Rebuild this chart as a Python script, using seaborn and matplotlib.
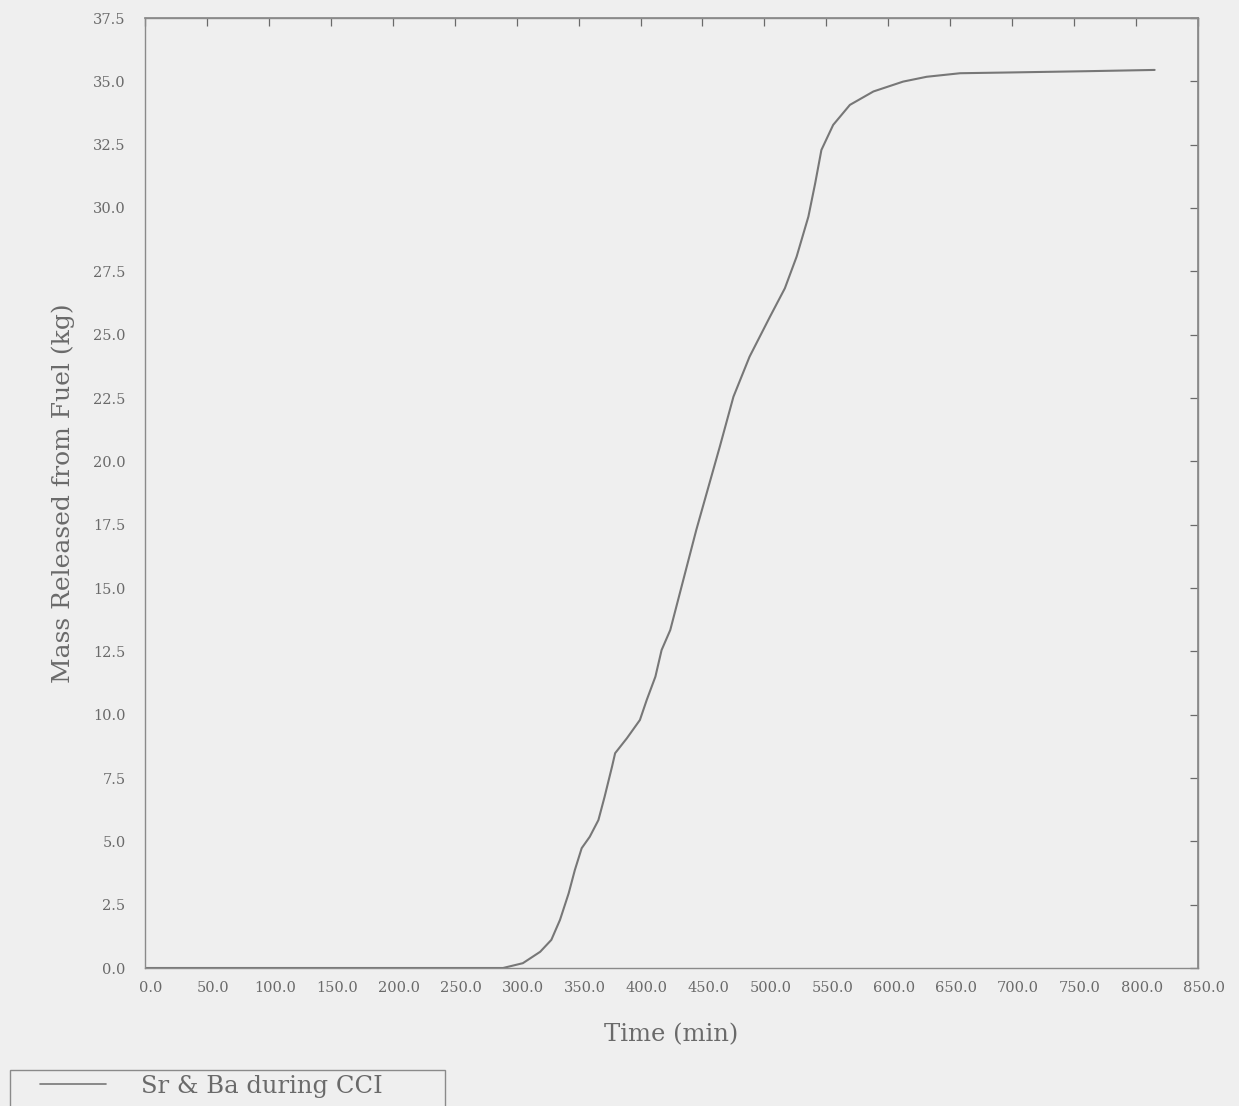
import matplotlib
matplotlib.use("Agg")
import matplotlib.pyplot as plt
import matplotlib.transforms as mtransforms
from matplotlib.patches import Rectangle
import numpy as np
import pandas as pd
import seaborn as sns

# Cumulative Sr & Ba mass released from fuel during core-concrete interaction
time_min = [0, 100, 200, 289, 305, 319, 328, 335, 342, 347, 352.5, 359, 366,
            371, 377, 379.5, 389, 399.5, 405, 412, 417, 424, 445, 464, 475,
            488, 504.5, 516.5, 526, 535.5, 541, 546, 555.5, 569, 588, 612,
            631, 658, 698, 760, 815]
mass_kg = [0.0, 0.0, 0.0, 0.0, 0.19, 0.64, 1.11, 1.9, 2.95, 3.87, 4.73, 5.18,
           5.84, 6.76, 7.95, 8.48, 9.07, 9.79, 10.58, 11.5, 12.55, 13.34,
           17.29, 20.58, 22.55, 24.13, 25.71, 26.83, 28.08, 29.66, 30.98,
           32.29, 33.28, 34.07, 34.6, 34.99, 35.18, 35.32, 35.35, 35.4, 35.45]
series_name = "Sr & Ba during CCI"

x_ticks = np.arange(0, 851, 50)
y_ticks = np.arange(0, 37.51, 2.5)

paper = "#efefef"
ink = "#6a6a6a"
frame = "#8a8a8a"

sns.set_theme(style="white")
plt.rcParams["font.family"] = ["DejaVu Serif"]
plt.rcParams["text.color"] = ink
plt.rcParams["axes.labelcolor"] = ink
plt.rcParams["xtick.color"] = ink
plt.rcParams["ytick.color"] = ink

df = pd.DataFrame({"Time (min)": time_min, "Mass": mass_kg, "series": series_name})

W, H = 1239, 1106
fig = plt.figure(figsize=(W / 100, H / 100), dpi=100, facecolor=paper)
ax = fig.add_axes([145 / W, 1 - 968 / H, (1198 - 145) / W, (968 - 18) / H])
ax.set_facecolor(paper)

sns.lineplot(data=df, x="Time (min)", y="Mass", hue="series",
             palette=["#777777"], linewidth=1.5, ax=ax, legend=False)

ax.set_xlim(0, 850)
ax.set_ylim(0, 37.5)
ax.set_xticks(x_ticks)
ax.set_yticks(y_ticks)
ax.set_xticklabels([f"{v:.1f}" for v in x_ticks], fontsize=10.5)
ax.set_yticklabels([f"{v:.1f}" for v in y_ticks], fontsize=10.5)
ax.tick_params(axis="x", direction="out", length=5, width=0.9, colors=ink, pad=4)
ax.tick_params(axis="y", direction="out", length=5, width=0.9, colors=ink, pad=9)
ax.set_xlabel("Time (min)", fontsize=17.5, labelpad=21)
ax.set_ylabel("Mass Released from Fuel (kg)", fontsize=18, labelpad=13)

# nudge the time labels slightly right of their ticks
offset = mtransforms.ScaledTranslation(6 / 100, 0, fig.dpi_scale_trans)
for lab in ax.get_xticklabels():
    lab.set_transform(lab.get_transform() + offset)

for sp in ax.spines.values():
    sp.set_color(frame)
    sp.set_linewidth(1.0)

# inward ticks along the top and right frame
top = ax.secondary_xaxis("top")
top.set_xticks(x_ticks)
top.tick_params(direction="in", length=6, width=0.9, colors=ink, labeltop=False)
top.spines["top"].set_color(frame)
right = ax.secondary_yaxis("right")
right.set_yticks(y_ticks)
right.tick_params(direction="in", length=6, width=0.9, colors=ink, labelright=False)
right.spines["right"].set_color(frame)

# legend box in the lower-left corner, running off the bottom of the page
fig.patches.append(Rectangle((10 / W, -0.02), 435 / W, 0.02 + 36 / H,
                             transform=fig.transFigure, facecolor="none",
                             edgecolor=frame, linewidth=1.0))
handle = plt.Line2D([], [], color="#777777", linewidth=1.2)
leg = fig.legend([handle], [series_name], loc="center left",
                 bbox_to_anchor=(40 / W, 1 - 1086 / H), frameon=False,
                 fontsize=17.5, handlelength=2.7, handletextpad=1.45,
                 borderpad=0, borderaxespad=0)
for t in leg.get_texts():
    t.set_color(ink)

fig.savefig("out.png", dpi=100, facecolor=paper)
